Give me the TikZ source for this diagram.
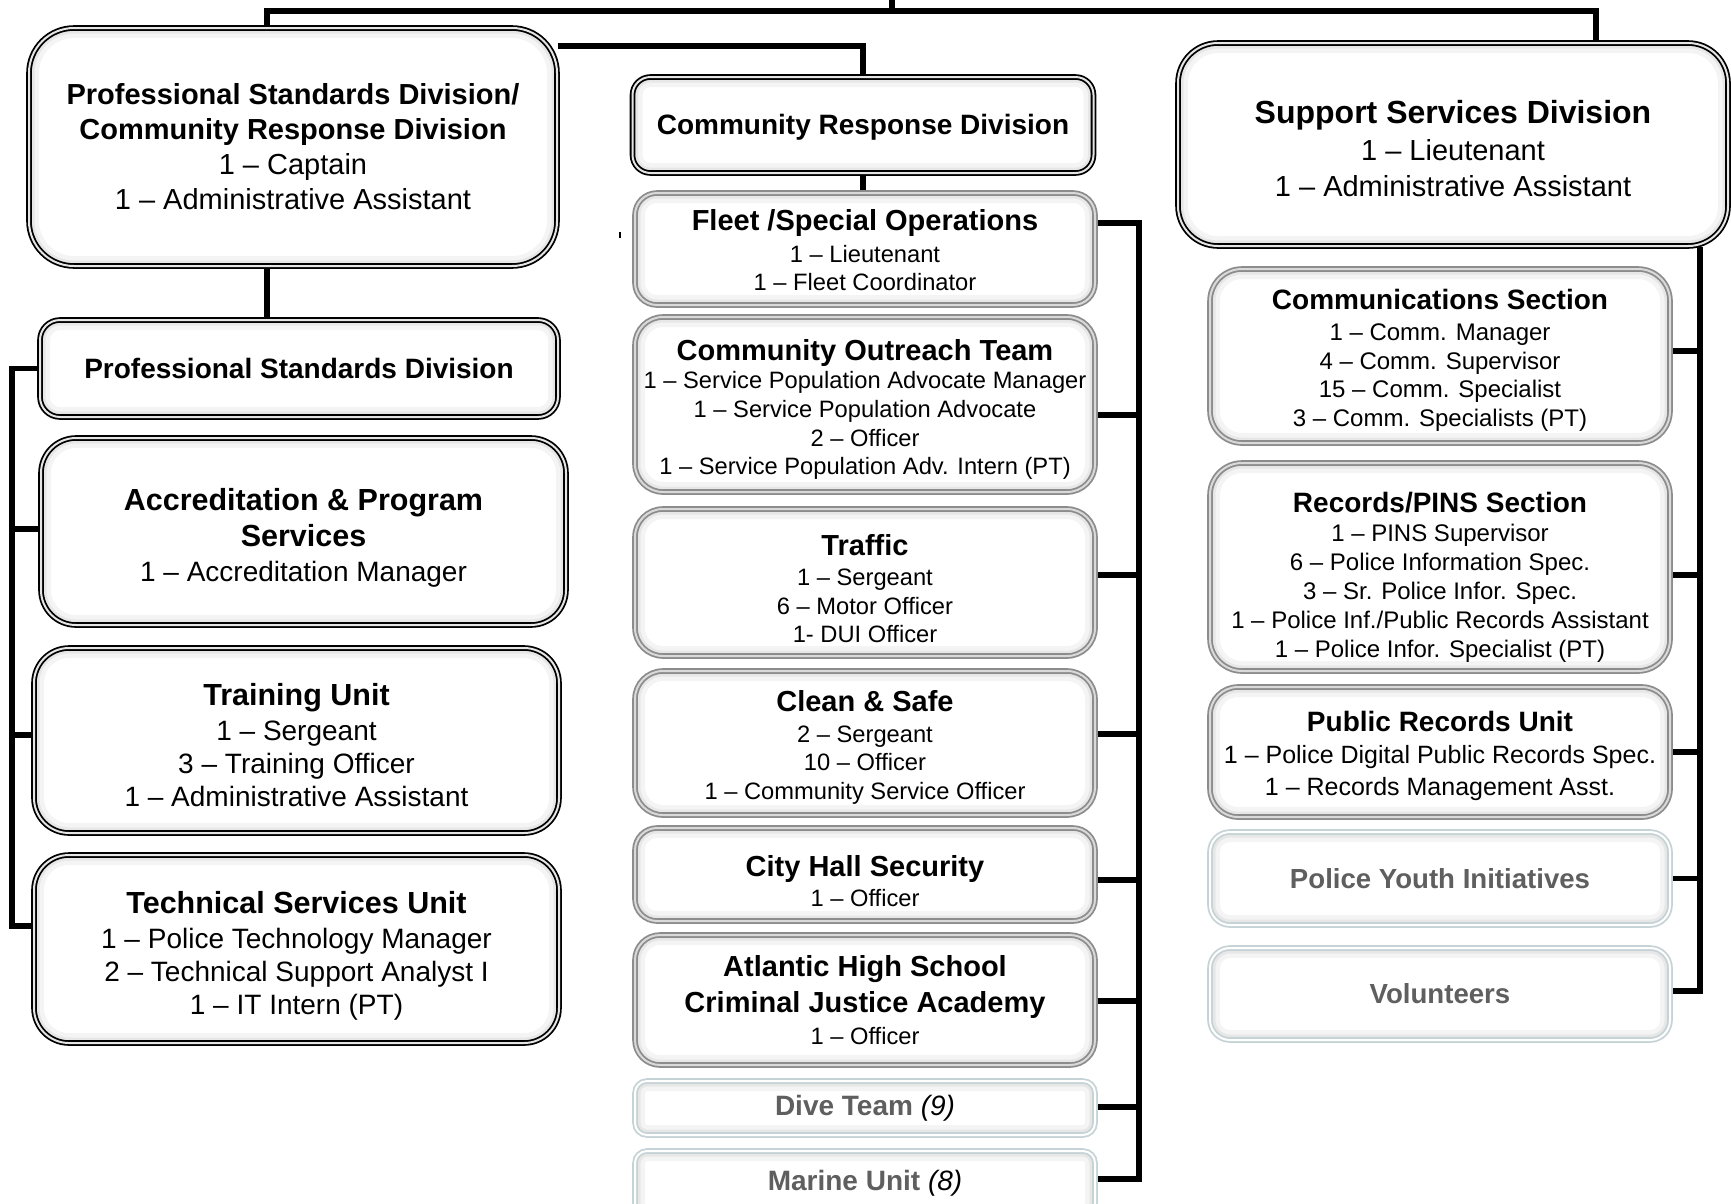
\documentclass[tikz,border=0pt]{standalone}
\usepackage{fontspec}
\setmainfont{Liberation Sans}
\usetikzlibrary{positioning,backgrounds,calc}
\definecolor{dimtext}{HTML}{5F5F5F}
\definecolor{greyline}{HTML}{8C8C8C}
\definecolor{paleline}{HTML}{C6D3D6}
\newcommand{\hd}[2]{{\fontsize{#1pt}{#1pt}\selectfont\bfseries #2}}
\newcommand{\push}[1]{\rule{0pt}{\dimexpr0.75em+#1pt\relax}}

\begin{document}
\begin{tikzpicture}[
x=1pt,y=-1pt,
shade in/.style={
  path picture={
    \draw[line width=20pt,black,opacity=0.045,rounded corners=#1]
      (path picture bounding box.south west) rectangle (path picture bounding box.north east);
    \draw[line width=11pt,black,opacity=0.05,rounded corners=#1]
      (path picture bounding box.south west) rectangle (path picture bounding box.north east);
    \draw[line width=5pt,black,opacity=0.06,rounded corners=#1]
      (path picture bounding box.south west) rectangle (path picture bounding box.north east);
  }
},
unit/.style={
  rounded corners=#1,
  shade in=#1,
  fill=white,
  line width=1.8pt,
  double distance=2pt,
  align=center,
  inner sep=0pt
},
blk/.style={unit=#1, draw=black, double=gray!20},
gry/.style={unit=#1, draw=greyline, double=gray!30},
pale/.style={unit=#1, draw=paleline, double=white, text=dimtext},
lcol/.style={font=\fontsize{28pt}{33pt}\selectfont},
ccol/.style={font=\fontsize{23.7pt}{28.7pt}\selectfont},
rcol/.style={font=\fontsize{24pt}{28.7pt}\selectfont},
link/.style={line width=5.5pt}
]
\useasboundingbox (0,0) rectangle (1731,1203);

% division heads
\node[blk=45,minimum width=528pt,minimum height=238pt,
  font=\fontsize{29pt}{35pt}\selectfont] at (293,147) 
  (pcrd) {\hd{29}{Professional Standards Division/}\\
  \hd{29}{Community Response Division}\\
  1 – Captain\\ 1 – Administrative Assistant};
\node[blk=18,minimum width=461pt,minimum height=96pt] at (863,125) 
  (crd) {\hd{28}{\push{4}Community Response Division}};
\node[blk=40,minimum width=550pt,minimum height=203pt,
  font=\fontsize{29pt}{35.3pt}\selectfont] at (1453,144.5) 
  (ssd) {\hd{32}{\push{7}Support Services Division}\\[2pt]
  1 – Lieutenant\\ 1 – Administrative Assistant};

% left column
\node[blk=20,minimum width=518pt,minimum height=97pt] at (299,368.5) 
  (psd) {\hd{28}{Professional Standards Division}};
\node[blk=35,lcol,minimum width=525pt,minimum height=187pt] at (303.5,531.5) 
  (acc) {\hd{30.5}{\push{12}Accreditation \& Program}\\[3pt]
  \hd{30.5}{Services}\\[2pt] 1 – Accreditation Manager};
\node[blk=35,lcol,minimum width=525pt,minimum height=185pt] at (296.5,740.5) 
  (train) {\hd{30.5}{\push{8}Training Unit}\\[2pt]
  1 – Sergeant\\ 3 – Training Officer\\ 1 – Administrative Assistant};
\node[blk=35,lcol,minimum width=525pt,minimum height=188pt] at (296.5,949) 
  (tech) {\hd{30.5}{\push{12}Technical Services Unit}\\[2pt]
  1 – Police Technology Manager\\ 2 – Technical Support Analyst I\\
  1 – IT Intern (PT)};

% centre column
\node[gry=22,ccol,minimum width=460pt,minimum height=112pt] at (865,249) 
  (fleet) {\hd{29}{\push{2}Fleet /Special Operations}\\[3pt]
  1 – Lieutenant\\ 1 – Fleet Coordinator};
\node[gry=28,ccol,minimum width=460pt,minimum height=175pt] at (865,404.5) 
  (cot) {\hd{29}{\push{9}Community Outreach Team}\\
  1 – Service Population Advocate Manager\\
  1 – Service Population Advocate\\ 2 – Officer\\
  1 – Service Population Adv. Intern (PT)};
\node[gry=28,ccol,minimum width=460pt,minimum height=147pt] at (865,582.5) 
  (traffic) {\hd{29}{\push{12}Traffic}\\[1pt]
  1 – Sergeant\\ 6 – Motor Officer\\ 1- DUI Officer};
\node[gry=28,ccol,minimum width=460pt,minimum height=144pt] at (865,743) 
  (clean) {\hd{29}{\push{8}Clean \& Safe}\\[2pt]
  2 – Sergeant\\ 10 – Officer\\ 1 – Community Service Officer};
\node[gry=22,ccol,minimum width=460pt,minimum height=93pt] at (865,874.5) 
  (city) {\hd{29}{\push{12}City Hall Security}\\[1pt] 1 – Officer};
\node[gry=25,ccol,minimum width=460pt,minimum height=130pt] at (865,1000) 
  (ahs) {\hd{29}{Atlantic High School}\\[7pt]
  \hd{29}{Criminal Justice Academy}\\[3pt] 1 – Officer};
\node[pale=12,minimum width=460pt,minimum height=54pt] at (865,1108) 
  (dive) {\hd{28}{Dive Team }{\fontsize{28pt}{28pt}\selectfont\itshape\color{black}(9)}};
\node[pale=12,minimum width=460pt,minimum height=64pt] at (865,1183) 
  (marine) {\hd{28}{Marine Unit }{\fontsize{28pt}{28pt}\selectfont\itshape\color{black}(8)}};

% right column
\node[gry=32,rcol,minimum width=460pt,minimum height=174pt] at (1440,356) 
  (comm) {\hd{28}{\push{8}Communications Section}\\[2pt]
  1 – Comm. Manager\\ 4 – Comm. Supervisor\\ 15 – Comm. Specialist\\
  3 – Comm. Specialists (PT)};
\node[gry=32,minimum width=460pt,minimum height=208pt,
  font=\fontsize{24pt}{29pt}\selectfont] at (1440,567) 
  (rec) {\hd{28}{\push{19}Records/PINS Section}\\
  1 – PINS Supervisor\\ 6 – Police Information Spec.\\
  3 – Sr. Police Infor. Spec.\\ 1 – Police Inf./Public Records Assistant\\
  1 – Police Infor. Specialist (PT)};
\node[gry=28,minimum width=460pt,minimum height=130pt,
  font=\fontsize{25pt}{32pt}\selectfont] at (1440,752) 
  (pub) {\hd{28}{\push{8}Public Records Unit}\\
  1 – Police Digital Public Records Spec.\\ 1 – Records Management Asst.};
\node[pale=20,minimum width=460pt,minimum height=93pt] at (1440,878.5) 
  (pyi) {\hd{27.6}{Police Youth Initiatives}};
\node[pale=20,minimum width=460pt,minimum height=92pt] at (1440,994) 
  (vol) {\hd{27.6}{Volunteers}};

\coordinate (chief) at (892,0);
\coordinate (bar) at (892,11);
\coordinate (tick) at (620,232);

\begin{scope}[on background layer]
\draw[link] (chief) -- (bar);
\draw[link] ([xshift=-26pt]pcrd.north) |- (bar) -| ([xshift=143pt]ssd.north);
\draw[link] ([yshift=-19pt]pcrd.north east) -| (crd.north);
\draw[link] (crd.south) -- (crd.south |- fleet.north);
\draw[link] ([xshift=-26pt]pcrd.south) -- ([xshift=-32pt]psd.north);

% left bus
\draw[link] (psd.west) -- ++(-27,0) |- ([yshift=23pt]tech.west);
\draw[link] ([yshift=2.5pt]acc.west) -- ++(-28,0);
\draw[link] ([yshift=5.5pt]train.west) -- ++(-21,0);

% centre bus
\draw[link] ([yshift=26pt]fleet.east) -- ++(43,0) |- ([yshift=4pt]marine.east);
\draw[link] ([yshift=-10.5pt]cot.east) -- ++(43,0);
\draw[link] ([yshift=7.5pt]traffic.east) -- ++(43,0);
\draw[link] ([yshift=9pt]clean.east) -- ++(43,0);
\draw[link] ([yshift=-5.5pt]city.east) -- ++(43,0);
\draw[link] ([yshift=-1pt]ahs.east) -- ++(43,0);
\draw[link] ([yshift=1pt]dive.east) -- ++(43,0);

% right bus
\draw[link] ([xshift=247pt]ssd.south) |- ([yshift=3pt]vol.east);
\draw[link] ([yshift=5pt]comm.east) -- ++(30,0);
\draw[link] ([yshift=-8pt]rec.east) -- ++(30,0);
\draw[link] (pub.east) -- ++(30,0);
\draw[link] (pyi.east) -- ++(30,0);
\end{scope}

\draw[line width=1.2pt] (tick) -- ++(0,6);
\end{tikzpicture}
\end{document}
